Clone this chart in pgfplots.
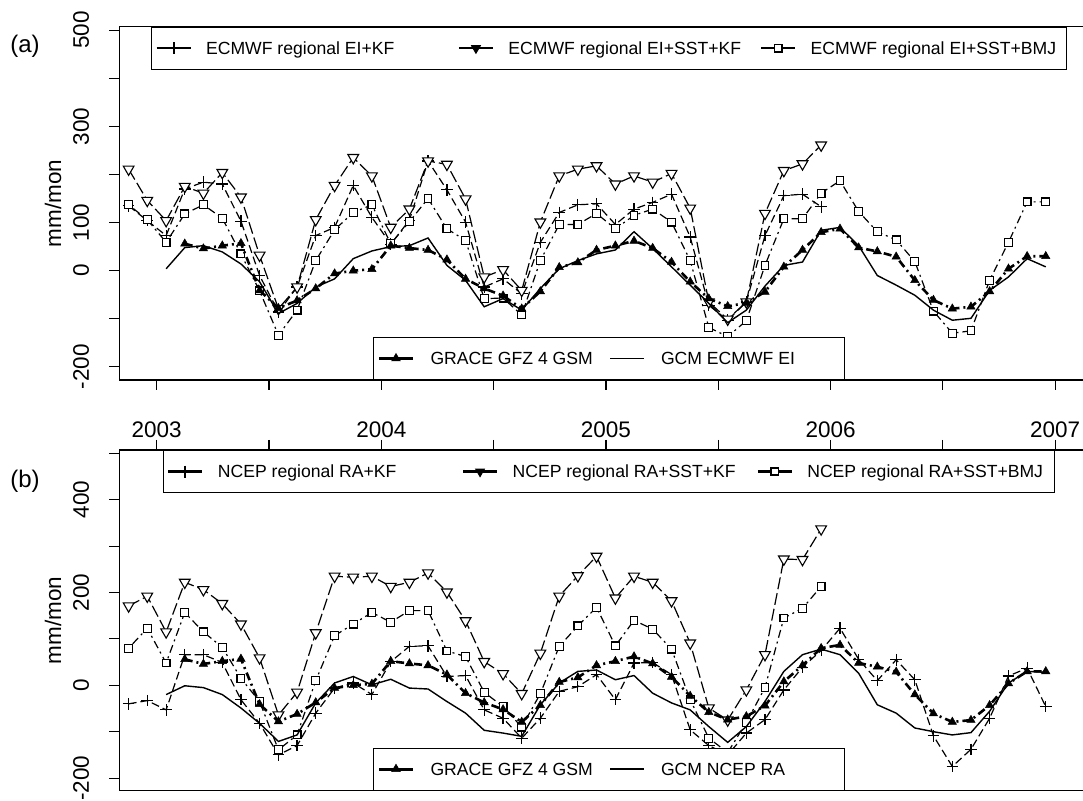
\documentclass[border=0pt]{standalone}
\usepackage{fontspec}
\setmainfont{Liberation Sans}
\usepackage{pgfplots}
\usepackage{pgfplotstable}
\pgfplotsset{compat=1.18}

\newcommand\tfont{\fontsize{22.5}{27}\selectfont}
\newcommand\lfont{\fontsize{17.6}{21}\selectfont}

\pgfplotstableread{
t plus tri sq grace gcm
2002.875 135 211 137 nan nan
2002.958 104 146 106 nan nan
2003.042 73 104 59 nan 4
2003.125 170 175 118 56 48
2003.208 184 161 137 46 52
2003.292 180 204 109 52 39
2003.375 103 153 35 57 14
2003.458 -10 32 -42 -41 -23
2003.542 -86 -79 -134 -78 -89
2003.625 -34 -34 -82 -62 -68
2003.708 73 106 21 -37 -34
2003.792 90 177 85 -6 -17
2003.875 177 235 121 0 25
2003.958 111 197 137 3 41
2004.042 55 90 56 52 50
2004.125 105 128 102 47 52
2004.208 228 228 150 43 68
2004.292 168 221 87 23 11
2004.375 101 149 63 -17 -20
2004.458 -34 -13 -58 -37 -75
2004.542 -17 2 -57 -52 -58
2004.625 -48 -41 -92 -79 -82
2004.708 59 101 21 -43 -37
2004.792 121 197 96 7 4
2004.875 137 211 96 17 21
2004.958 139 218 119 43 35
2005.042 96 180 87 52 43
2005.125 128 197 115 62 81
2005.208 142 184 128 47 46
2005.292 159 202 101 18 8
2005.375 70 130 21 -23 -30
2005.458 -72 -65 -118 -58 -68
2005.542 -103 -101 -137 -74 -108
2005.625 -65 -65 -104 -67 -82
2005.708 73 119 11 -44 -32
2005.792 156 208 108 8 11
2005.875 159 222 108 43 18
2005.958 133 261 161 80 84
2006.042 nan nan 187 87 90
2006.125 nan nan 123 48 52
2006.208 nan nan 81 40 -10
2006.292 nan nan 64 29 -30
2006.375 nan nan 19 -20 -51
2006.458 nan nan -84 -61 -82
2006.542 nan nan -130 -79 -103
2006.625 nan nan -125 -75 -99
2006.708 nan nan -20 -43 -41
2006.792 nan nan 59 4 -13
2006.875 nan nan 143 30 25
2006.958 nan nan 143 30 8
}\tabA

\pgfplotstableread{
t plus tri sq grace gcm
2002.875 -40 171 80 nan nan
2002.958 -33 192 123 nan nan
2003.042 -53 115 48 nan -20
2003.125 66 222 157 56 -1
2003.208 66 206 115 46 -5
2003.292 49 176 82 52 -20
2003.375 -31 132 15 57 -49
2003.458 -82 59 -35 -41 -82
2003.542 -150 -64 -139 -78 -121
2003.625 -130 -15 -107 -62 -107
2003.708 -60 113 10 -37 -38
2003.792 -6 235 107 -6 5
2003.875 5 233 132 0 19
2003.958 -20 235 157 3 1
2004.042 51 213 136 52 13
2004.125 84 222 161 47 -6
2004.208 85 242 161 43 -8
2004.292 19 201 74 23 -35
2004.375 21 139 62 -17 -60
2004.458 -53 51 -15 -37 -97
2004.542 -71 25 -46 -52 -103
2004.625 -114 -18 -90 -79 -110
2004.708 -71 69 -18 -43 -42
2004.792 -13 192 84 7 5
2004.875 -3 236 128 17 30
2004.958 23 278 168 43 33
2005.042 -31 188 85 52 12
2005.125 48 235 140 62 21
2005.208 49 222 121 47 -17
2005.292 23 182 78 18 -38
2005.375 -96 91 -31 -23 -53
2005.458 -130 -49 -114 -58 -89
2005.542 -150 -75 -145 -74 -123
2005.625 -103 -10 -80 -67 -89
2005.708 -74 66 -5 -44 -35
2005.792 -10 272 145 8 30
2005.875 39 271 166 43 66
2005.958 75 337 213 80 78
2006.042 123 nan nan 87 66
2006.125 56 nan nan 48 26
2006.208 10 nan nan 40 -42
2006.292 55 nan nan 29 -60
2006.375 12 nan nan -20 -92
2006.458 -109 nan nan -61 -100
2006.542 -175 nan nan -79 -107
2006.625 -138 nan nan -75 -102
2006.708 -71 nan nan -43 -56
2006.792 20 nan nan 4 5
2006.875 37 nan nan 30 30
2006.958 -46 nan nan 30 28
}\tabB

\pgfplotsset{
  plusS/.style={black, line width=1.2pt, dash pattern=on 8pt off 4pt, mark=+, mark size=5.8pt, mark options={solid, line width=1.2pt}},
  triS/.style={black, line width=1.2pt, dash pattern=on 12pt off 4pt, mark=triangle*, mark size=6.2pt, mark options={solid, rotate=180, fill=white, line width=1.1pt}},
  sqS/.style={black, line width=1.2pt, dash pattern=on 2pt off 4pt on 8pt off 4pt, mark=square*, mark size=3.9pt, mark options={solid, fill=white, line width=1.1pt}},
  graceS/.style={black, line width=2.6pt, dash pattern=on 8pt off 4pt on 2pt off 4pt, mark=triangle*, mark size=4.8pt, mark options={solid, fill=black, line width=0.5pt}},
  gcmS/.style={black, line width=1.4pt, solid},
  plusL/.style={black, line width=2.3pt, mark=+, mark size=6pt, mark options={line width=2pt}},
  triL/.style={black, line width=2.3pt, mark=triangle*, mark size=5pt, mark options={rotate=180, fill=black, line width=1pt}},
  sqL/.style={black, line width=2.3pt, mark=square*, mark size=3.6pt, mark options={fill=white, line width=1.6pt}},
  graceL/.style={black, line width=3pt, mark=triangle*, mark size=5pt, mark options={fill=black, line width=0.5pt}},
  gcmL/.style={black, line width=1.5pt},
  geom/.style={anchor=south west, scale only axis, width=970.7pt,
    xmin=2002.8335, xmax=2007.155, ymin=-227.2, ymax=507.2},
  frame/.style={
    axis line style={line width=1.3pt},
    tick style={black, line width=1.1pt},
    major tick length=10pt, tick align=outside,
    xtick={2003,2003.5,2004,2004.5,2005,2005.5,2006,2006.5,2007},
    ytick={-200,-100,0,100,200,300,400,500},
    ytick pos=left,
    tick label style={font=\tfont},
    yticklabel style={rotate=90, anchor=center},
    yticklabel shift=28.3pt,
    ylabel={mm/mon},
    ylabel style={at={(axis description cs:-0.0683,0.5)}, anchor=center, font=\tfont},
    title style={anchor=center, font=\fontsize{24}{28}\selectfont},
  },
  leg/.style={
    legend cell align=left,
    legend style={draw=black, line width=1pt, fill=white,
      inner xsep=4pt, inner ysep=14.7pt, font=\lfont,
      nodes={inner sep=0pt, text height=12.7pt, text depth=0pt, anchor=west}},
    legend image code/.code={\draw[mark repeat=2,mark phase=2,##1,solid] plot coordinates {(0pt,0pt) (17pt,0pt) (34pt,0pt)};},
  },
}

\begin{document}
\begin{tikzpicture}
\useasboundingbox (0,0) rectangle (1083pt,800pt);

% ---------- panel (a) ----------
\begin{axis}[geom, frame, at={(119.3pt,420pt)}, height=353.3pt,
  xtick pos=left,
  xticklabels={2003,,2004,,2005,,2006,,2007},
  xticklabel style={anchor=center}, xticklabel shift=40pt,
  yticklabels={-200,,0,100,,300,,500},
  title={(a)}, title style={at={(axis description cs:-0.0971,0.9284)}},
  leg, legend columns=3,
  legend style={at={(0.03266,1)}, anchor=north west,
    /tikz/every odd column/.append style={column sep=14.3pt},
    /tikz/every even column/.append style={column sep=11.7pt}},
]
\addplot[plusS, forget plot] table[x=t,y=plus] {\tabA};
\addplot[triS, forget plot] table[x=t,y=tri] {\tabA};
\addplot[sqS, forget plot] table[x=t,y=sq] {\tabA};
\addlegendimage{plusL}
\addlegendentry{\makebox[240pt][l]{ECMWF regional EI+KF}}
\addlegendimage{triL}
\addlegendentry{\makebox[240pt][l]{ECMWF regional EI+SST+KF}}
\addlegendimage{sqL}
\addlegendentry{\makebox[252pt][l]{ECMWF regional EI+SST+BMJ}}
\end{axis}

\begin{axis}[geom, at={(119.3pt,420pt)}, height=353.3pt, hide axis,
  leg, legend columns=2,
  legend style={at={(0.26136,0)}, anchor=south west,
    /tikz/every odd column/.append style={column sep=16pt},
    /tikz/every even column/.append style={column sep=9pt}},
]
\addplot[graceS, forget plot] table[x=t,y=grace] {\tabA};
\addplot[gcmS, forget plot] table[x=t,y=gcm] {\tabA};
\addlegendimage{graceL}
\addlegendentry{\makebox[170pt][l]{GRACE GFZ 4 GSM}}
\addlegendimage{gcmL}
\addlegendentry{\makebox[179pt][l]{GCM ECMWF EI}}
\end{axis}

% ---------- panel (b) ----------
\begin{axis}[geom, frame, at={(119.3pt,9.3pt)}, height=340.7pt,
  xtick pos=right, xticklabels={},
  yticklabels={-200,,0,,200,,400,},
  title={(b)}, title style={at={(axis description cs:-0.0971,0.8914)}},
  leg, legend columns=3,
  legend style={at={(0.04471,1)}, anchor=north west,
    /tikz/every odd column/.append style={column sep=14.4pt},
    /tikz/every even column/.append style={column sep=12pt}},
]
\addplot[plusS, forget plot] table[x=t,y=plus] {\tabB};
\addplot[triS, forget plot] table[x=t,y=tri] {\tabB};
\addplot[sqS, forget plot] table[x=t,y=sq] {\tabB};
\addlegendimage{plusL}
\addlegendentry{\makebox[232pt][l]{NCEP regional RA+KF}}
\addlegendimage{triL}
\addlegendentry{\makebox[232pt][l]{NCEP regional RA+SST+KF}}
\addlegendimage{sqL}
\addlegendentry{\makebox[243pt][l]{NCEP regional RA+SST+BMJ}}
\end{axis}

\begin{axis}[geom, at={(119.3pt,9.3pt)}, height=340.7pt, hide axis,
  leg, legend columns=2,
  legend style={at={(0.26136,0)}, anchor=south west,
    /tikz/every odd column/.append style={column sep=16pt},
    /tikz/every even column/.append style={column sep=9pt}},
]
\addplot[graceS, forget plot] table[x=t,y=grace] {\tabB};
\addplot[gcmS, forget plot] table[x=t,y=gcm] {\tabB};
\addlegendimage{graceL}
\addlegendentry{\makebox[170pt][l]{GRACE GFZ 4 GSM}}
\addlegendimage{gcmL}
\addlegendentry{\makebox[179pt][l]{GCM NCEP RA}}
\end{axis}
\end{tikzpicture}
\end{document}
